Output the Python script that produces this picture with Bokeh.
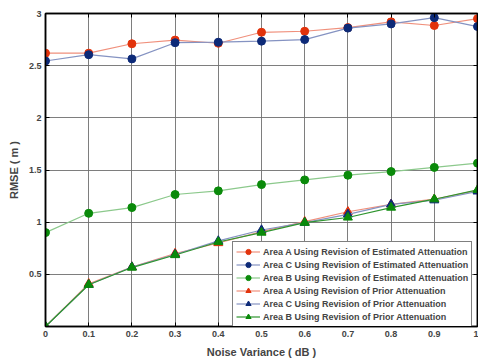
from bokeh.plotting import figure
from bokeh.models import (LinearAxis, FixedTicker, Legend, LegendItem, Range1d,
                          CustomLabelingPolicy)
from bokeh.embed import file_html
from bokeh.resources import INLINE

# Noise variance (dB) on the x axis
noise_variance = [0.0, 0.1, 0.2, 0.3, 0.4, 0.5, 0.6, 0.7, 0.8, 0.9, 1.0]

# RMSE (m) using revision of estimated attenuation
est_area_a = [2.62, 2.62, 2.71, 2.745, 2.715, 2.82, 2.83, 2.865, 2.92, 2.885, 2.95]
est_area_c = [2.545, 2.605, 2.565, 2.72, 2.725, 2.735, 2.75, 2.86, 2.90, 2.96, 2.875]
est_area_b = [0.90, 1.085, 1.14, 1.265, 1.30, 1.36, 1.405, 1.45, 1.485, 1.525, 1.565]

# RMSE (m) using revision of prior attenuation
prior_area_a = [0.0, 0.41, 0.57, 0.70, 0.80, 0.91, 1.005, 1.10, 1.17, 1.22, 1.305]
prior_area_c = [0.0, 0.40, 0.57, 0.69, 0.82, 0.925, 0.995, 1.075, 1.17, 1.21, 1.295]
prior_area_b = [0.0, 0.40, 0.565, 0.685, 0.81, 0.90, 0.995, 1.045, 1.14, 1.22, 1.31]

x_ticks = [0.0, 0.1, 0.2, 0.3, 0.4, 0.5, 0.6, 0.7, 0.8, 0.9, 1.0]
x_tick_labels = ["0", "0.1", "0.2", "0.3", "0.4", "0.5", "0.6", "0.7", "0.8", "0.9", "1"]
y_ticks = [0.0, 0.5, 1.0, 1.5, 2.0, 2.5, 3.0]
y_tick_labels = ["", "0.5", "1", "1.5", "2", "2.5", "3"]

FONT = "Liberation Sans"

p = figure(width=478, height=360, x_range=Range1d(0, 1), y_range=Range1d(0, 3),
           output_backend="svg", toolbar_location=None,
           min_border_left=45, min_border_right=1, min_border_top=13,
           min_border_bottom=32, background_fill_color="white",
           border_fill_color="white")

p.outline_line_color = "black"
p.outline_line_width = 1.5

# tick marks only, no labels, for the mirrored top/right axes
no_labels = CustomLabelingPolicy(code="""
const out = indices.clone()
for (const i of [...indices]) { out.set(i, false) }
return out
""")

def style_axis(ax, ticks, show_labels=True):
    ax.axis_line_color = "black"
    ax.axis_line_width = 1.5
    ax.major_tick_in = 4
    ax.major_tick_out = 0
    ax.minor_tick_in = 0
    ax.minor_tick_out = 0
    ax.major_tick_line_color = "black"
    ax.major_label_text_font = FONT
    ax.major_label_text_font_style = "bold"
    ax.major_label_text_font_size = "9px"
    ax.major_label_standoff = 4 if show_labels else 0
    if not show_labels:
        ax.major_label_overrides = {t: "" for t in ticks}
        ax.major_label_policy = no_labels

p.xaxis.ticker = FixedTicker(ticks=x_ticks)
p.xaxis.major_label_overrides = dict(zip(x_ticks, x_tick_labels))
p.yaxis.ticker = FixedTicker(ticks=y_ticks)
p.yaxis.major_label_overrides = dict(zip(y_ticks, y_tick_labels))
style_axis(p.xaxis[0], x_ticks)
style_axis(p.yaxis[0], y_ticks)
p.xaxis.axis_label = "Noise Variance ( dB )"
p.yaxis.axis_label = "RMSE ( m )"
for ax in (p.xaxis[0], p.yaxis[0]):
    ax.axis_label_text_font = FONT
    ax.axis_label_text_font_style = "bold"
    ax.axis_label_text_font_size = "11px"
    ax.axis_label_standoff = 6

top = LinearAxis(ticker=FixedTicker(ticks=x_ticks))
right = LinearAxis(ticker=FixedTicker(ticks=y_ticks))
style_axis(top, x_ticks, False)
style_axis(right, y_ticks, False)
p.add_layout(top, "above")
p.add_layout(right, "right")

p.xgrid.ticker = FixedTicker(ticks=x_ticks)
p.ygrid.ticker = FixedTicker(ticks=y_ticks)
for g in (p.xgrid[0], p.ygrid[0]):
    g.grid_line_color = "#707070"
    g.grid_line_width = 1
    g.grid_line_alpha = 0.9

series = [
    ("Area A Using Revision of Estimated Attenuation", est_area_a, "#e2330c", "#f0907c", "circle", 8),
    ("Area C Using Revision of Estimated Attenuation", est_area_c, "#0d2a78", "#8593c2", "circle", 8),
    ("Area B Using Revision of Estimated Attenuation", est_area_b, "#0a8a0a", "#8cc98c", "circle", 8),
    ("Area A Using Revision of Prior Attenuation", prior_area_a, "#e2330c", "#f0907c", "triangle", 9),
    ("Area C Using Revision of Prior Attenuation", prior_area_c, "#0d2a78", "#8593c2", "triangle", 9),
    ("Area B Using Revision of Prior Attenuation", prior_area_b, "#0a8a0a", "#2f952f", "triangle", 9),
]

items = []
for label, ys, mcolor, lcolor, marker, size in series:
    ln = p.line(noise_variance, ys, line_color=lcolor, line_width=1.2)
    sc = p.scatter(noise_variance, ys, marker=marker, size=size,
                   fill_color=mcolor, line_color=mcolor)
    items.append(LegendItem(label=label, renderers=[ln, sc]))

legend = Legend(items=items, location=(187, -1), padding=3, spacing=0,
                margin=0, label_height=13, glyph_height=13, glyph_width=24,
                label_standoff=3, label_text_font=FONT,
                label_text_font_style="bold", label_text_font_size="9px",
                border_line_color="black", border_line_width=1.2,
                background_fill_color="white", background_fill_alpha=1)
p.add_layout(legend, "center")

open("out.html", "w").write(file_html(p, INLINE))
